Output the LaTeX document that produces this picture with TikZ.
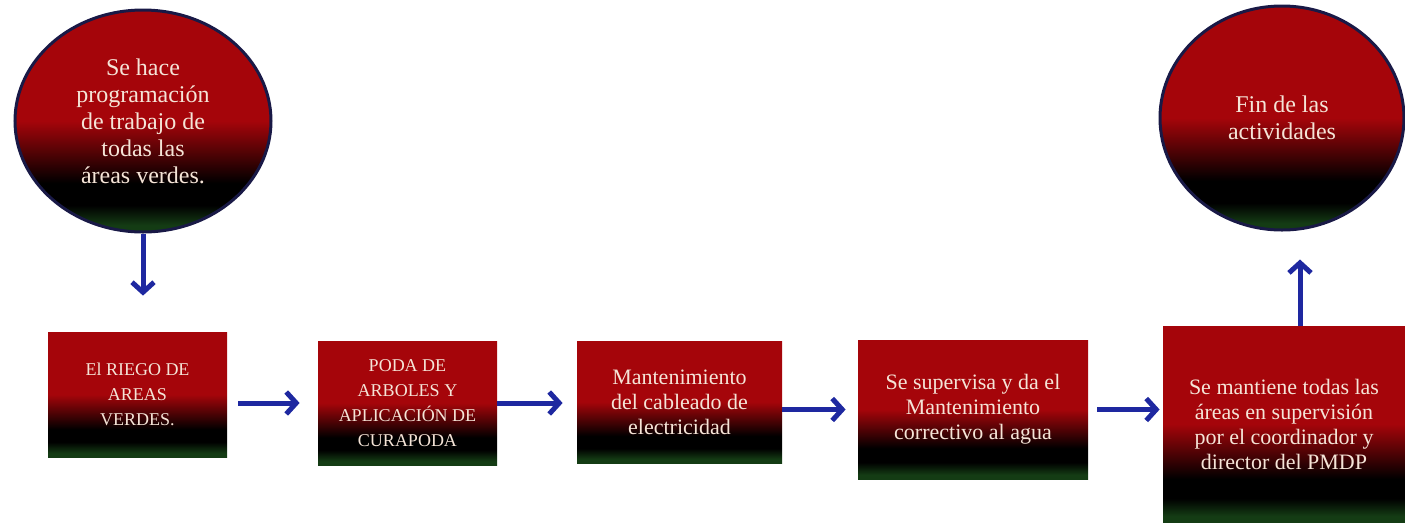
\documentclass[tikz,border=0pt]{standalone}
\usepackage{fontspec}
\setmainfont{Liberation Serif}
\usetikzlibrary{arrows.meta,shapes.geometric}
\definecolor{rojo}{RGB}{165,5,10}
\definecolor{verdeosc}{RGB}{20,60,20}
\definecolor{azul}{RGB}{30,40,160}
\definecolor{borde}{RGB}{25,25,70}
\definecolor{letra}{RGB}{245,228,215}
\pgfdeclareverticalshading{rojonegro}{100bp}{color(0bp)=(verdeosc); color(26.5bp)=(verdeosc); color(31bp)=(black); color(36bp)=(black); color(50bp)=(rojo); color(100bp)=(rojo)}

\begin{document}
\begin{tikzpicture}[x=0.5pt,y=-0.5pt,
  paso/.style={rectangle, shading=rojonegro, text=letra, align=center, inner sep=0pt, font=\fontsize{11}{12.5}\selectfont},
  mayus/.style={paso, font=\fontsize{9}{12.5}\selectfont},
  ovalo/.style={ellipse, draw=borde, line width=1.5pt, shading=rojonegro, text=letra, align=center, inner sep=0pt, font=\fontsize{12}{13.5}\selectfont},
  flecha/.style={draw=azul, line width=2.5pt, -{Straight Barb[length=5pt,width=11pt]}}]
\useasboundingbox (0,0) rectangle (1405,526);
% inicio y fin
\node[ovalo, minimum width=128pt, minimum height=111pt] (e1) at (143,121)
  {Se hace\\programación\\de trabajo de\\todas las\\áreas verdes.};
\node[ovalo, minimum width=122pt, minimum height=112pt] (e2) at (1282,118)
  {Fin de las\\actividades};
% pasos
\node[mayus, minimum width=89.5pt, minimum height=62.5pt] (b1) at (137.5,394.5)
  {El RIEGO DE\\AREAS\\VERDES.};
\node[mayus, minimum width=89.5pt, minimum height=62pt] (b2) at (407.5,403)
  {PODA DE\\ARBOLES Y\\APLICACIÓN DE\\CURAPODA};
\node[paso, minimum width=102.5pt, minimum height=61pt] (b3) at (679.5,402)
  {Mantenimiento\\del cableado de\\electricidad};
\node[paso, minimum width=115pt, minimum height=69.5pt] (b4) at (973,409.5)
  {Se supervisa y da el\\Mantenimiento\\correctivo al agua};
\node[paso, minimum width=121pt, minimum height=98pt] (b5) at (1284,424)
  {Se mantiene todas las\\áreas en supervisión\\por el coordinador y\\director del PMDP};
% flechas
\draw[flecha, shorten >=18pt] (e1.south) -- (e1.south |- b1.north);
\draw[flecha, shorten <=5.5pt, shorten >=9pt] (b1.east |- b2.center) -- (b2.west);
\draw[flecha, shorten >=7pt] (b2.east) -- (b3.west |- b2.center);
\draw[flecha, shorten >=6pt] (b3.east |- b4.center) -- (b4.west);
\draw[flecha, shorten <=4.5pt, shorten >=1.5pt] (b4.east) -- (b5.west |- b4.center);
\draw[flecha, shorten >=14pt] ([xshift=8pt]b5.north) -- ([xshift=8pt]b5.north |- e2.south);
\end{tikzpicture}
\end{document}
